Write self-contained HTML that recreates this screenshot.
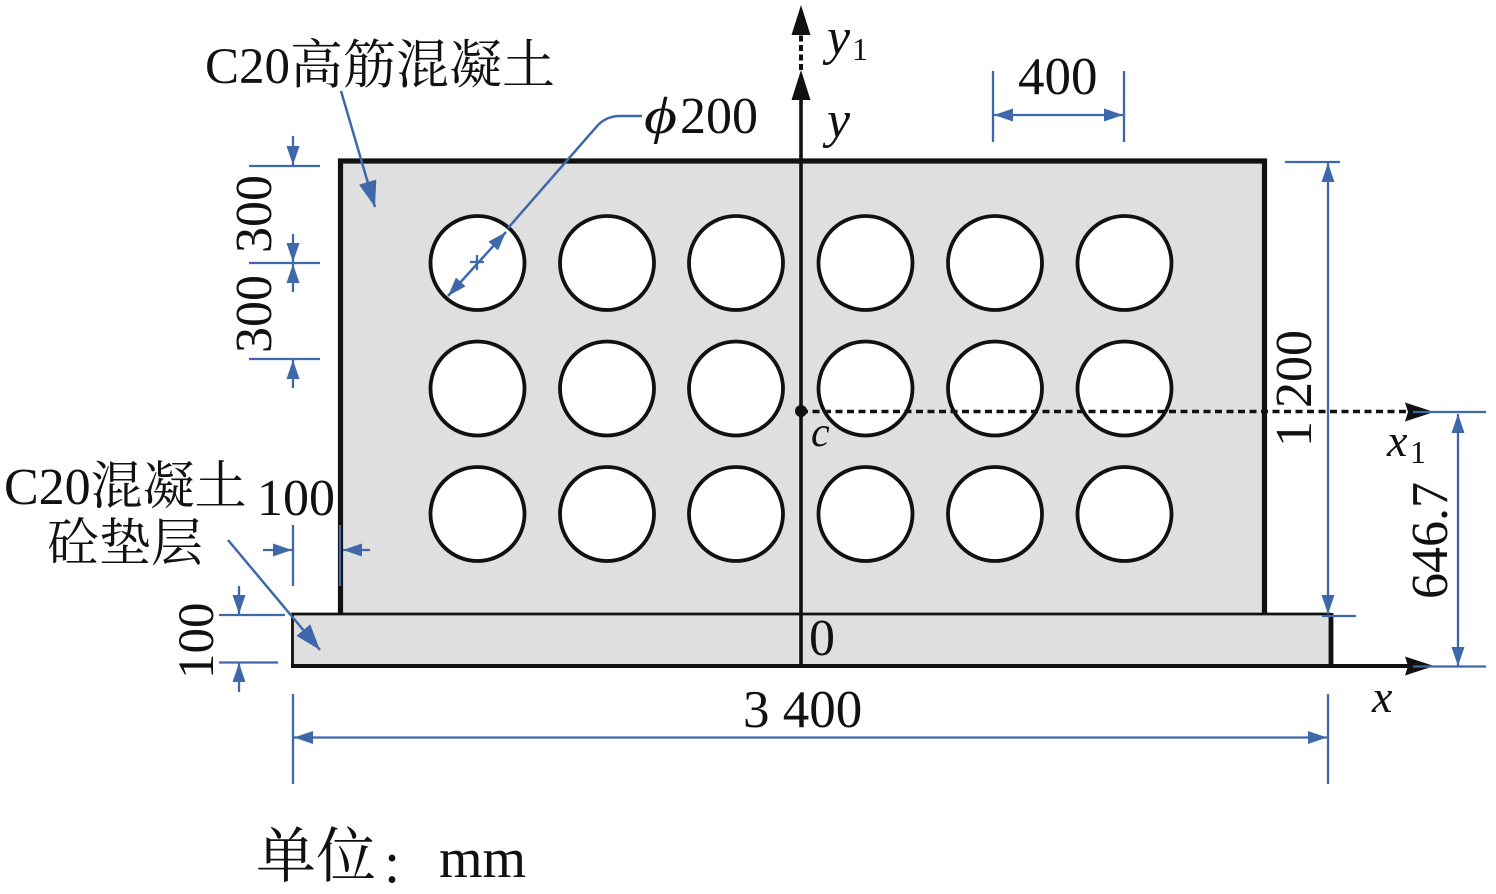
<!DOCTYPE html>
<html><head><meta charset="utf-8">
<style>html,body{margin:0;padding:0;background:#fff}svg{display:block}</style></head>
<body>
<svg width="1496" height="894" viewBox="0 0 1496 894" xmlns="http://www.w3.org/2000/svg">
<defs>
<marker id="b" viewBox="0 0 10 10" refX="10" refY="5" markerWidth="19" markerHeight="13" markerUnits="userSpaceOnUse" orient="auto-start-reverse" preserveAspectRatio="none"><path d="M0 0L10 5L0 10Z" fill="#3f68aa"/></marker>
<marker id="L" viewBox="0 0 10 10" refX="10" refY="5" markerWidth="26" markerHeight="18" markerUnits="userSpaceOnUse" orient="auto" preserveAspectRatio="none"><path d="M0 0L10 5L0 10Z" fill="#3f68aa"/></marker>
</defs>
<!-- bodies -->
<rect x="340" y="161" width="925" height="453" fill="#e0dfdf"/>
<rect x="292" y="614" width="1039" height="52" fill="#e0dfdf"/>
<path d="M340.500 614V161H1264.500V614" fill="none" stroke="#111" stroke-width="5.200"/>
<path d="M292.500 666V614H1331" fill="none" stroke="#111" stroke-width="2.800"/>
<path d="M291 666H1408" stroke="#111" stroke-width="4"/>
<path d="M1331 613V667" stroke="#111" stroke-width="4.800"/>
<!-- holes -->
<g fill="#fff" stroke="#111" stroke-width="3.800">
<circle cx="477.500" cy="263" r="47"/><circle cx="607" cy="263" r="47"/><circle cx="736" cy="263" r="47"/><circle cx="865.500" cy="263" r="47"/><circle cx="995" cy="263" r="47"/><circle cx="1124.500" cy="263" r="47"/>
<circle cx="477.500" cy="388.500" r="47"/><circle cx="607" cy="388.500" r="47"/><circle cx="736" cy="388.500" r="47"/><circle cx="865.500" cy="388.500" r="47"/><circle cx="995" cy="388.500" r="47"/><circle cx="1124.500" cy="388.500" r="47"/>
<circle cx="477.500" cy="514" r="47"/><circle cx="607" cy="514" r="47"/><circle cx="736" cy="514" r="47"/><circle cx="865.500" cy="514" r="47"/><circle cx="995" cy="514" r="47"/><circle cx="1124.500" cy="514" r="47"/>
</g>
<!-- axes -->
<path d="M801 666V98" stroke="#111" stroke-width="3.600"/>
<path d="M801 70V34" stroke="#111" stroke-width="4" stroke-dasharray="6 3.500"/>
<path d="M801 70L791.500 100H810.500Z" fill="#111"/>
<path d="M801 5L791.500 35H810.500Z" fill="#111"/>
<path d="M801 411.500H1408" stroke="#111" stroke-width="3.600" stroke-dasharray="7 4.500"/>
<path d="M1434 412L1405 402.500L1408 412L1405 421.500Z" fill="#111"/>
<path d="M1434 666L1405 656.500L1408 666L1405 675.500Z" fill="#111"/>
<circle cx="801" cy="411" r="6" fill="#111"/>
<!-- blue lines -->
<g fill="none" stroke="#3f68aa" stroke-width="2.300">
<path d="M993 71V142M1124 71V142"/>
<path d="M994 115H1123" marker-start="url(#b)" marker-end="url(#b)"/>
<path d="M249 166H320M249 263H320M249 359H320"/>
<path d="M293 136V165" marker-end="url(#b)"/>
<path d="M293 234V262" marker-end="url(#b)"/>
<path d="M293 292V264" marker-end="url(#b)"/>
<path d="M293 388V360" marker-end="url(#b)"/>
<path d="M1285 162H1340M1322 616H1356"/>
<path d="M1328 163V614" marker-start="url(#b)" marker-end="url(#b)"/>
<path d="M1413 412H1486M1413 666.500H1486"/>
<path d="M1458 414V666" marker-start="url(#b)" marker-end="url(#b)"/>
<path d="M293 694V784M1328 694V784"/>
<path d="M294 737.500H1327" marker-start="url(#b)" marker-end="url(#b)"/>
<path d="M293 525V586M340 525V586"/>
<path d="M263 550H292" marker-end="url(#b)"/>
<path d="M370 550H343" marker-end="url(#b)"/>
<path d="M219 615H285M219 662.500H278"/>
<path d="M239 586V614" marker-end="url(#b)"/>
<path d="M239 692V663" marker-end="url(#b)"/>
<path d="M341 91L375 207" marker-end="url(#L)" stroke-width="2.500"/>
<path d="M228 540L320 650" marker-end="url(#L)" stroke-width="2.500"/>
<path d="M642 116H620Q607 116 598 125L508 228" stroke-width="2.500"/>
<path d="M506 232L448 296" marker-start="url(#b)" marker-end="url(#b)" stroke-width="2.500"/>
<path d="M470 262H484M477 255V270"/>
</g>
<!-- text -->
<g fill="#111" font-family="'Liberation Serif','Noto Serif CJK SC',serif">
<text x="205" y="83" font-size="51">C20<tspan font-size="53">高筋混凝土</tspan></text>
<text x="4" y="504" font-size="52">C20混凝土</text>
<text x="47" y="561" font-size="52">砼垫层</text>
<text x="1018" y="94" font-size="53">400</text>
<text x="644" y="133" font-size="52" font-style="italic" textLength="33" lengthAdjust="spacingAndGlyphs">ϕ</text>
<text x="680" y="133" font-size="52">200</text>
<text x="257" y="515" font-size="52">100</text>
<text x="809" y="655" font-size="52">0</text>
<text x="743" y="727" font-size="53">3 400</text>
<text x="256" y="877" font-size="60">单位</text>
<text x="384" y="882" font-size="58">:</text>
<text x="439" y="877" font-size="56">mm</text>
<text transform="translate(271 253) rotate(-90)" font-size="52">300</text>
<text transform="translate(271 353) rotate(-90)" font-size="52">300</text>
<text transform="translate(213 679) rotate(-90)" font-size="51">100</text>
<text transform="translate(1311 447) rotate(-90)" font-size="52">1 200</text>
<text transform="translate(1447 599) rotate(-90)" font-size="52">646.7</text>
<g font-style="italic">
<text x="827" y="54" font-size="52">y</text>
<text x="827" y="137" font-size="52">y</text>
<text x="811" y="446" font-size="42">c</text>
<text x="1387" y="456" font-size="46">x</text>
<text x="1372" y="712" font-size="46">x</text>
</g>
<text x="852" y="60" font-size="32">1</text>
<text x="1410" y="463" font-size="32">1</text>
</g>
</svg>
</body></html>
